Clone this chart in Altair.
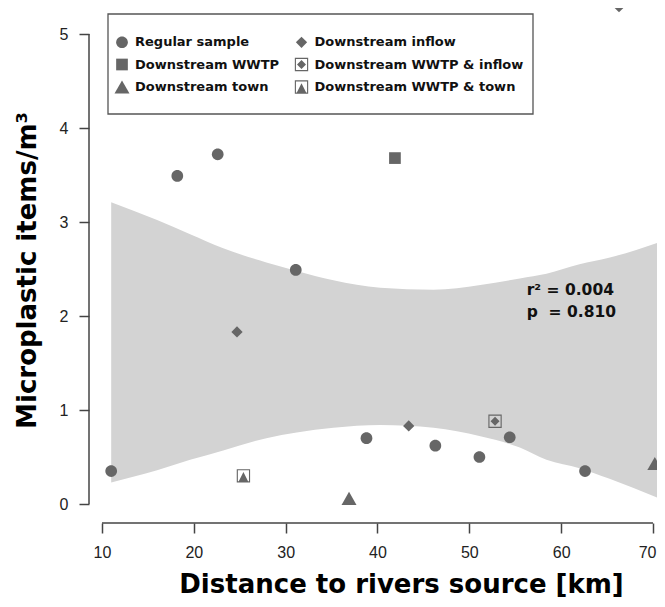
import altair as alt
import pandas as pd

# ---------------- data ----------------
categories = ["Regular sample", "Downstream WWTP", "Downstream town",
              "Downstream inflow", "Downstream WWTP & inflow", "Downstream WWTP & town"]

reg_x = [11.0, 18.2, 22.6, 31.1, 38.8, 46.3, 51.1, 54.4, 62.6]
reg_y = [0.35, 3.49, 3.72, 2.49, 0.70, 0.62, 0.50, 0.71, 0.35]
wwtp_x = [41.9, 71.4]
wwtp_y = [3.68, 1.72]
town_x = [36.9, 70.2]
town_y = [0.06, 0.43]
inflow_x = [24.7, 43.4, 66.3]
inflow_y = [1.83, 0.83, 5.29]
wwtp_inflow_x = [52.8]
wwtp_inflow_y = [0.88]
wwtp_town_x = [25.4]
wwtp_town_y = [0.30]

# confidence band
band_x = [11.0, 16.0, 19.6, 23.2, 27.9, 31.2, 35.2, 40.3, 46.1, 51.2, 55.5, 58.4, 62.0, 65.2, 71.4]
band_hi = [3.21, 3.02, 2.87, 2.72, 2.57, 2.48, 2.38, 2.30, 2.28, 2.33, 2.40, 2.45, 2.55, 2.62, 2.81]
band_lo = [0.23, 0.36, 0.47, 0.57, 0.70, 0.76, 0.81, 0.84, 0.81, 0.72, 0.60, 0.47, 0.38, 0.27, 0.03]

stat_labels = ["r\u00b2 = 0.004", "p \u00a0= 0.810"]
stat_x = [56.25, 56.25]
stat_y = [2.277, 2.046]

x_ticks = [10, 20, 30, 40, 50, 60, 70]
y_ticks = [0, 1, 2, 3, 4, 5]

# ---------------- tables ----------------
groups = [
    ("Regular sample", reg_x, reg_y),
    ("Downstream WWTP", wwtp_x, wwtp_y),
    ("Downstream town", town_x, town_y),
    ("Downstream inflow", inflow_x, inflow_y),
    ("Downstream WWTP & inflow", wwtp_inflow_x, wwtp_inflow_y),
    ("Downstream WWTP & town", wwtp_town_x, wwtp_town_y),
]
rows = []
for name, xs, ys in groups:
    for a, b in zip(xs, ys):
        rows.append({"type": name, "x": a, "y": b})
pts = pd.DataFrame(rows)
band = pd.DataFrame({"x": band_x, "hi": band_hi, "lo": band_lo})
stats = pd.DataFrame({"label": stat_labels, "x": stat_x, "y": stat_y})

X_MIN, X_MAX = 8.584, 70.437
Y_MIN, Y_MAX = -0.2021, 5.2766
yline = pd.DataFrame({"x": [X_MIN], "y0": [0], "y1": [5]})
xline = pd.DataFrame({"x0": [10], "x1": [70], "y": [Y_MIN]})

# ---------------- shapes (unit box, size 225 -> 7.5 px per unit) ----------------
r = 0.78
circle = f"M {-r} 0 A {r} {r} 0 1 0 {r} 0 A {r} {r} 0 1 0 {-r} 0 Z"
square = "M -0.78 -0.78 L 0.78 -0.78 L 0.78 0.78 L -0.78 0.78 Z"
diamond = "M 0 -0.75 L 0.75 0 L 0 0.75 L -0.75 0 Z"
triangle = "M 0 -0.87 L 1 0.87 L -1 0.87 Z"
ring = ("M -0.89 -0.89 L 0.89 -0.89 L 0.89 0.89 L -0.89 0.89 Z "
        "M -0.74 -0.74 L -0.74 0.74 L 0.74 0.74 L 0.74 -0.74 Z ")
sq_diamond = ring + "M 0 -0.6 L 0.6 0 L 0 0.6 L -0.6 0 Z"
sq_triangle = ring + "M 0 -0.5 L 0.62 0.74 L -0.62 0.74 Z"
shapes = [circle, square, triangle, diamond, sq_diamond, sq_triangle]

xscale = alt.Scale(domain=[X_MIN, X_MAX], nice=False, zero=False)
yscale = alt.Scale(domain=[Y_MIN, Y_MAX], nice=False, zero=False)

xaxis = alt.Axis(
    title="Distance to rivers source [km]", values=x_ticks, format="d",
    titleFont="DejaVu Sans", titleFontWeight="bold", titleFontSize=26, titleColor="#000",
    titleX=312, titleY=61, titleBaseline="middle", titleAlign="center",
    domain=False, grid=False, tickSize=10, tickWidth=1.5, tickColor="#444",
    labelFont="Liberation Sans", labelFontSize=16, labelColor="#222", labelPadding=11,
    labelFlush=6, labelFlushOffset=3, labelOverlap=False,
)
yaxis = alt.Axis(
    title="Microplastic items/m\u00b3", values=y_ticks, format="d",
    titleFont="DejaVu Sans", titleFontWeight="bold", titleFontSize=26, titleColor="#000",
    titleX=-62, titleY=262, titleAngle=270, titleBaseline="middle", titleAlign="center",
    domain=False, grid=False, tickSize=10, tickWidth=1.5, tickColor="#444",
    labelFont="Liberation Sans", labelFontSize=16, labelColor="#222", labelPadding=11,
    labelFlush=False, labelOverlap=False,
)

band_layer = alt.Chart(band).mark_area(color="#d3d3d3", interpolate="monotone", clip=True).encode(
    x=alt.X("x:Q", scale=xscale, axis=xaxis),
    y=alt.Y("hi:Q", scale=yscale, axis=yaxis),
    y2="lo:Q",
)

box = alt.Chart(pd.DataFrame({"k": [0]})).mark_rect(
    fill="white", stroke="#555", strokeWidth=1.3
).encode(x=alt.value(19), x2=alt.value(444), y=alt.value(6), y2=alt.value(106))

yrule = alt.Chart(yline).mark_rule(color="#444", strokeWidth=1.5).encode(
    x="x:Q", y="y0:Q", y2="y1:Q")
xrule = alt.Chart(xline).mark_rule(color="#444", strokeWidth=1.5).encode(
    x="x0:Q", x2="x1:Q", y="y:Q")

points = alt.Chart(pts).mark_point(
    filled=True, size=225, opacity=1, color="#666666", strokeWidth=0, clip=True
).encode(
    x="x:Q", y="y:Q",
    shape=alt.Shape(
        "type:N",
        scale=alt.Scale(domain=categories, range=shapes),
        legend=alt.Legend(
            title=None, orient="none", legendX=25.5, legendY=26.5, columns=2,
            symbolSize=225, symbolFillColor="#666666", symbolStrokeWidth=0, symbolOpacity=1,
            labelFont="DejaVu Sans", labelFontWeight="bold", labelFontSize=13, labelColor="#111",
            labelOffset=5.5, rowPadding=7.5, columnPadding=14.5, padding=0, labelLimit=400,
        ),
    ),
)

stat_text = alt.Chart(stats).mark_text(
    align="left", baseline="middle", font="DejaVu Sans", fontWeight="bold",
    fontSize=15.5, color="#111"
).encode(x="x:Q", y="y:Q", text="label:N")

chart = alt.layer(band_layer, box, yrule, xrule, points, stat_text).properties(
    width=568, height=515,
    autosize=alt.AutoSizeParams(type="none"),
    padding={"left": 81, "top": 0, "right": 0, "bottom": 76},
    background="white",
).configure_view(stroke=None)

chart.save("out.html", embed_options={"renderer": "svg", "actions": False})
